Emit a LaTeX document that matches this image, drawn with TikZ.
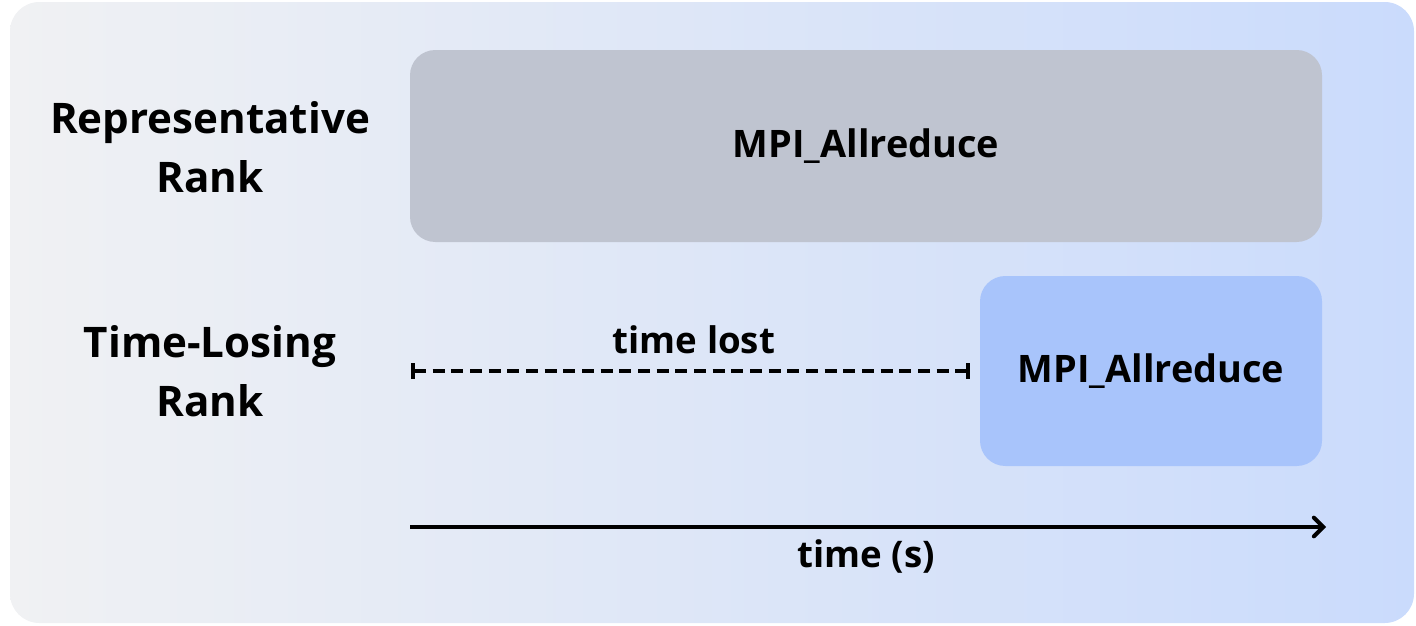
\documentclass[tikz,border=0pt]{standalone}
\usepackage{fontspec}
\setmainfont{Open Sans}
\usetikzlibrary{arrows.meta,positioning}

\definecolor{bgleft}{HTML}{F0F1F3}
\definecolor{bgright}{HTML}{CADBFC}
\definecolor{graybox}{HTML}{BFC4D0}
\definecolor{bluebox}{HTML}{A8C4FB}

\tikzset{every picture/.style={line width=0.75pt}}
\tikzset{
  phase/.style={rounded corners=19pt, inner sep=0pt, font=\bfseries\fontsize{28.4}{32}\selectfont},
  ranklabel/.style={align=center, font=\bfseries\fontsize{31.6}{44}\selectfont, inner sep=0pt},
  axislabel/.style={font=\bfseries\fontsize{27.5}{30}\selectfont, inner sep=0pt}
}

\begin{document}
\begin{tikzpicture}[x=0.75pt,y=0.75pt,yscale=-1,xscale=1]
		\useasboundingbox (0,0) rectangle (1416,625);
		%background panel
		\shade [left color=bgleft, right color=bgright, rounded corners=22pt] (10,2) rectangle (1414,623);
		
		%phases
		\node (rep) [phase, fill=graybox, minimum width=684pt, minimum height=144pt] at (866,146) {MPI\_Allreduce};
		\node (lose) [phase, fill=bluebox, minimum width=256.5pt, minimum height=142.5pt] at (1151,371) {MPI\_Allreduce};
		
		%rank labels
		\node (replabel) [ranklabel] at (210,147) {Representative\\Rank};
		\node (loselabel) [ranklabel] at (210,371) {Time-Losing\\Rank};
		
		%time lost
		\coordinate (loststart) at (411,371);
		\coordinate (lostend) at ([xshift=-7.5pt]lose.west);
		\draw [dash pattern={on 9pt off 5pt}, line width=3pt, {Bar[width=12pt]}-{Bar[width=12pt]}] (loststart) -- (lostend);
		\node (lostlabel) [axislabel] at (694,340) {time lost};
		
		%time axis
		\coordinate (tstart) at (410,527);
		\coordinate (tend) at (1326,527);
		\draw [line width=3pt, -{Straight Barb[length=7pt,width=14pt,line cap=round]}] (tstart) -- (tend);
		\node (timelabel) [axislabel] at (866,556) {time (s)};
		
\end{tikzpicture}
\end{document}
